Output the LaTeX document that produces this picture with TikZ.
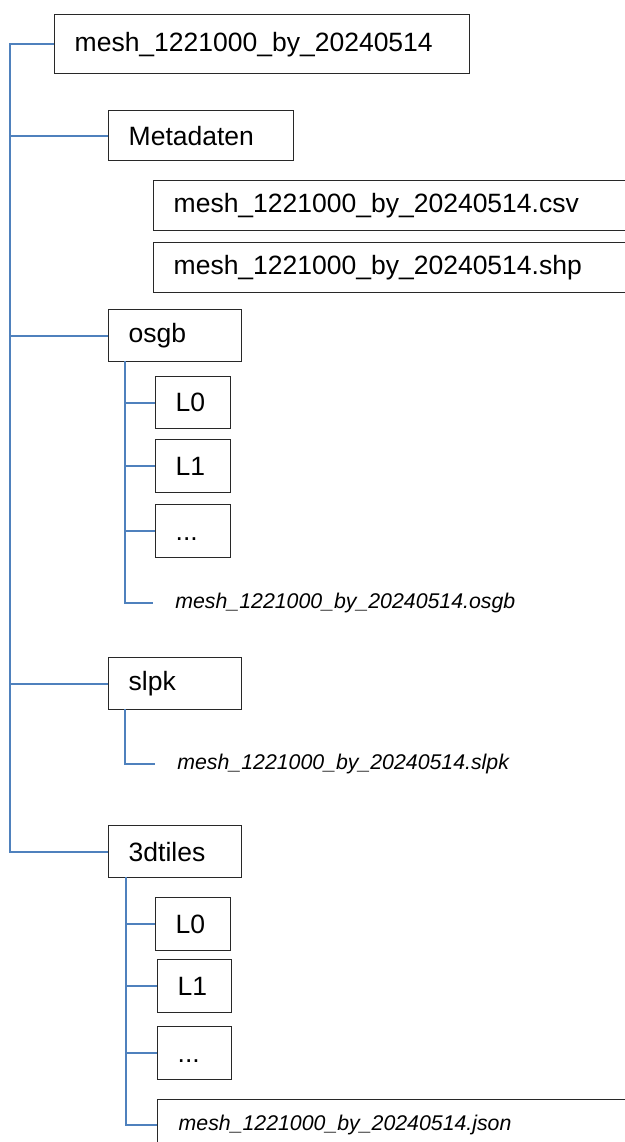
\documentclass[tikz,border=0pt]{standalone}
\usepackage{fontspec}
\setmainfont{Liberation Sans}
\usepackage{tikz}
\definecolor{branchblue}{RGB}{79,129,189}
\definecolor{framegray}{RGB}{40,40,40}

\tikzset{
  folder/.style={draw=framegray, line width=0.7pt, anchor=north west,
    inner xsep=10pt, inner ysep=0pt, align=left,
    font=\fontsize{13.25}{15}\selectfont},
  datei/.style={anchor=west, inner xsep=11pt, inner ysep=0pt,
    font=\fontsize{10.65}{12}\selectfont\itshape},
  branch/.style={draw=branchblue, line width=0.8pt}
}

\begin{document}
\begin{tikzpicture}[x=0.5pt, y=-0.5pt]
        \useasboundingbox (0,0) rectangle (625,1142);
        \clip (0,0) rectangle (625,1142);

        % Root folder
        \node[folder, text width=187.5pt, minimum height=29.5pt] (root) at (54,14) {mesh\_1221000\_by\_20240514};

        % Metadaten with its two files
        \node[folder, text width=72.5pt, minimum height=25pt] (meta) at (108,110) {Metadaten};
        \node[folder, text width=233.5pt, minimum height=25pt] (csv) at (153,180) {mesh\_1221000\_by\_20240514.csv};
        \node[folder, text width=233.5pt, minimum height=25pt] (shp) at (153,242) {mesh\_1221000\_by\_20240514.shp};

        % osgb
        \node[folder, text width=46.5pt, minimum height=26pt] (osgb) at (108,309) {osgb};
        \node[folder, text width=17.5pt, minimum height=26pt] (osgbA) at (155,376) {L0};
        \node[folder, text width=17.5pt, minimum height=26.5pt] (osgbB) at (155,439) {L1};
        \node[folder, text width=17.5pt, minimum height=26.5pt] (osgbC) at (155,504) {\vphantom{L}...};
        \node[datei] (osgbfile) at (153,603) {mesh\_1221000\_by\_20240514.osgb};

        % slpk
        \node[folder, text width=46.5pt, minimum height=26pt] (slpk) at (108,657) {slpk};
        \node[datei] (slpkfile) at (155,764) {mesh\_1221000\_by\_20240514.slpk};

        % 3dtiles
        \node[folder, text width=46.5pt, minimum height=26pt] (tiles) at (108,825) {3dtiles};
        \node[folder, text width=17.5pt, minimum height=26.5pt] (tilesA) at (155,897) {L0};
        \node[folder, text width=17pt, minimum height=26.5pt] (tilesB) at (157,959) {L1};
        \node[folder, text width=17pt, minimum height=26.5pt] (tilesC) at (157,1026) {\vphantom{L}...};
        \node[folder, text width=233.5pt, minimum height=25pt, inner xsep=10.5pt] (json) at (157,1099) {\fontsize{10.65}{12}\selectfont\itshape mesh\_1221000\_by\_20240514.json};

        % Main trunk
        \coordinate (trunk) at (root.west -| 10,0);
        \draw[branch] (root.west) -- (trunk) |- (tiles.west);
        \foreach \n in {meta,osgb,slpk}
          \draw[branch] (\n.west) -- (\n.west -| trunk);

        % Sub trunks
        \coordinate (osgbsub) at (125,361);
        \draw[branch] (osgbsub) |- (osgbfile.west);
        \foreach \n in {osgbA,osgbB,osgbC}
          \draw[branch] (\n.west) -- (\n.west -| osgbsub);

        \coordinate (slpksub) at (125,709);
        \draw[branch] (slpksub) |- (slpkfile.west);

        \coordinate (tilessub) at (126,877);
        \draw[branch] (tilessub) |- (json.west);
        \foreach \n in {tilesA,tilesB,tilesC}
          \draw[branch] (\n.west) -- (\n.west -| tilessub);
      \end{tikzpicture}
\end{document}
